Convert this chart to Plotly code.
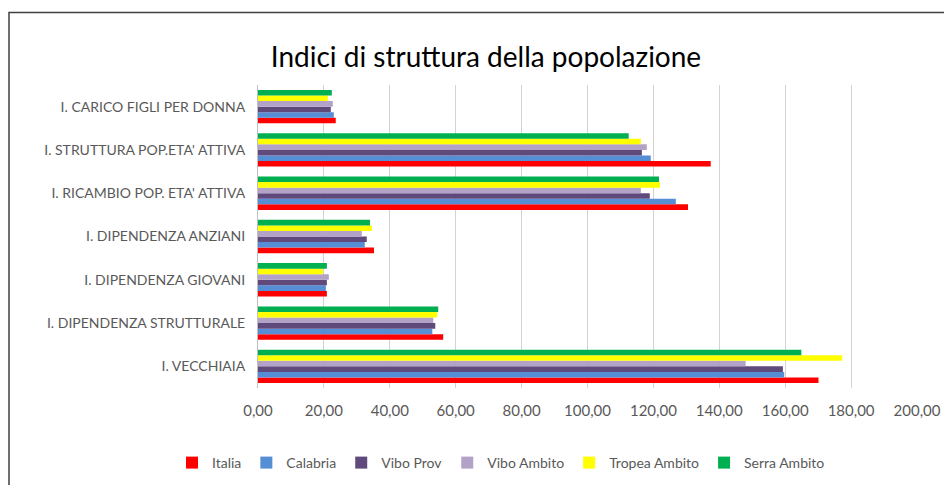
import plotly.graph_objects as go

categories = [
    "I. VECCHIAIA",
    "I. DIPENDENZA STRUTTURALE",
    "I. DIPENDENZA GIOVANI",
    "I. DIPENDENZA ANZIANI",
    "I. RICAMBIO POP. ETA' ATTIVA",
    "I. STRUTTURA POP.ETA' ATTIVA",
    "I. CARICO FIGLI PER DONNA",
]

italia = [170.1, 56.2, 20.9, 35.2, 130.5, 137.4, 23.6]
calabria = [159.7, 52.9, 20.6, 32.4, 126.8, 119.2, 23.0]
vibo_prov = [159.3, 53.8, 20.9, 33.0, 118.9, 116.5, 22.1]
vibo_ambito = [148.0, 53.2, 21.5, 31.5, 116.2, 118.0, 22.7]
tropea_ambito = [177.3, 54.4, 19.7, 34.6, 122.0, 116.2, 21.2]
serra_ambito = [164.9, 54.7, 20.9, 34.0, 121.7, 112.5, 22.4]

series_names = ["Italia", "Calabria", "Vibo Prov", "Vibo Ambito", "Tropea Ambito", "Serra Ambito"]
series_values = [italia, calabria, vibo_prov, vibo_ambito, tropea_ambito, serra_ambito]
series_colors = ["#FF0000", "#558ED5", "#604A7B", "#B3A2C7", "#FFFF00", "#00B050"]

x_ticks = [0, 20, 40, 60, 80, 100, 120, 140, 160, 180, 200]

# page body has an 8px margin: work in reference pixels, shift by OFF
OFF = 8
W, H = 952 - OFF, 485 - OFF
ML = 258 - OFF
PLOT_R = 917 - OFF
MT = 85 - OFF
PLOT_B = 388 - OFF
MR = W - PLOT_R
MB = H - PLOT_B
PW, PH = W - ML - MR, H - MT - MB

def px_to_paper_x(px):
    return (px - OFF - ML) / PW

def px_to_paper_y(py):
    return (PLOT_B - (py - OFF)) / PH

fig = go.Figure()
for name, vals, col in zip(series_names, series_values, series_colors):
    fig.add_trace(go.Bar(
        y=categories, x=vals, name=name, orientation="h",
        marker=dict(color=col, line=dict(width=0)),
    ))

font_family = "Lato, 'Open Sans', sans-serif"

fig.update_layout(
    width=W, height=H,
    margin=dict(l=ML, r=MR, t=MT, b=MB, autoexpand=False),
    paper_bgcolor="white", plot_bgcolor="white",
    barmode="group", bargap=0.23, bargroupgap=0,
    separators=",.",
    font=dict(family=font_family, color="#595959", size=14),
    title=dict(
        text="Indici di struttura della popolazione",
        x=px_to_paper_x(486), xref="paper", xanchor="center",
        y=1 - (57 - OFF) / H, yref="container", yanchor="middle",
        font=dict(size=28, color="#000000", family=font_family),
    ),
    xaxis=dict(
        range=[0, 200], tickvals=x_ticks, tickformat=".2f",
        showgrid=True, gridcolor="#D3D3D3", gridwidth=1,
        zeroline=False, showline=False, ticks="",
        tickfont=dict(size=15, color="#595959"),
        ticklabelstandoff=12,
    ),
    yaxis=dict(
        categoryorder="array", categoryarray=categories,
        showgrid=False, zeroline=False,
        showline=True, linecolor="#BFBFBF", linewidth=1,
        ticks="", tickfont=dict(size=14, color="#595959"),
        ticklabelstandoff=9,
    ),
    legend=dict(
        orientation="h", x=px_to_paper_x(172), xanchor="left",
        y=px_to_paper_y(463), yanchor="middle",
        font=dict(size=14, color="#595959"),
        traceorder="normal", itemwidth=30,
    ),
    showlegend=True,
    shapes=[dict(
        type="rect", xref="paper", yref="paper",
        x0=px_to_paper_x(9), x1=px_to_paper_x(965),
        y0=px_to_paper_y(500), y1=px_to_paper_y(12.5),
        line=dict(color="#404040", width=1.5), fillcolor="rgba(0,0,0,0)",
        layer="below",
    )],
)

fig.write_html("out.html")
